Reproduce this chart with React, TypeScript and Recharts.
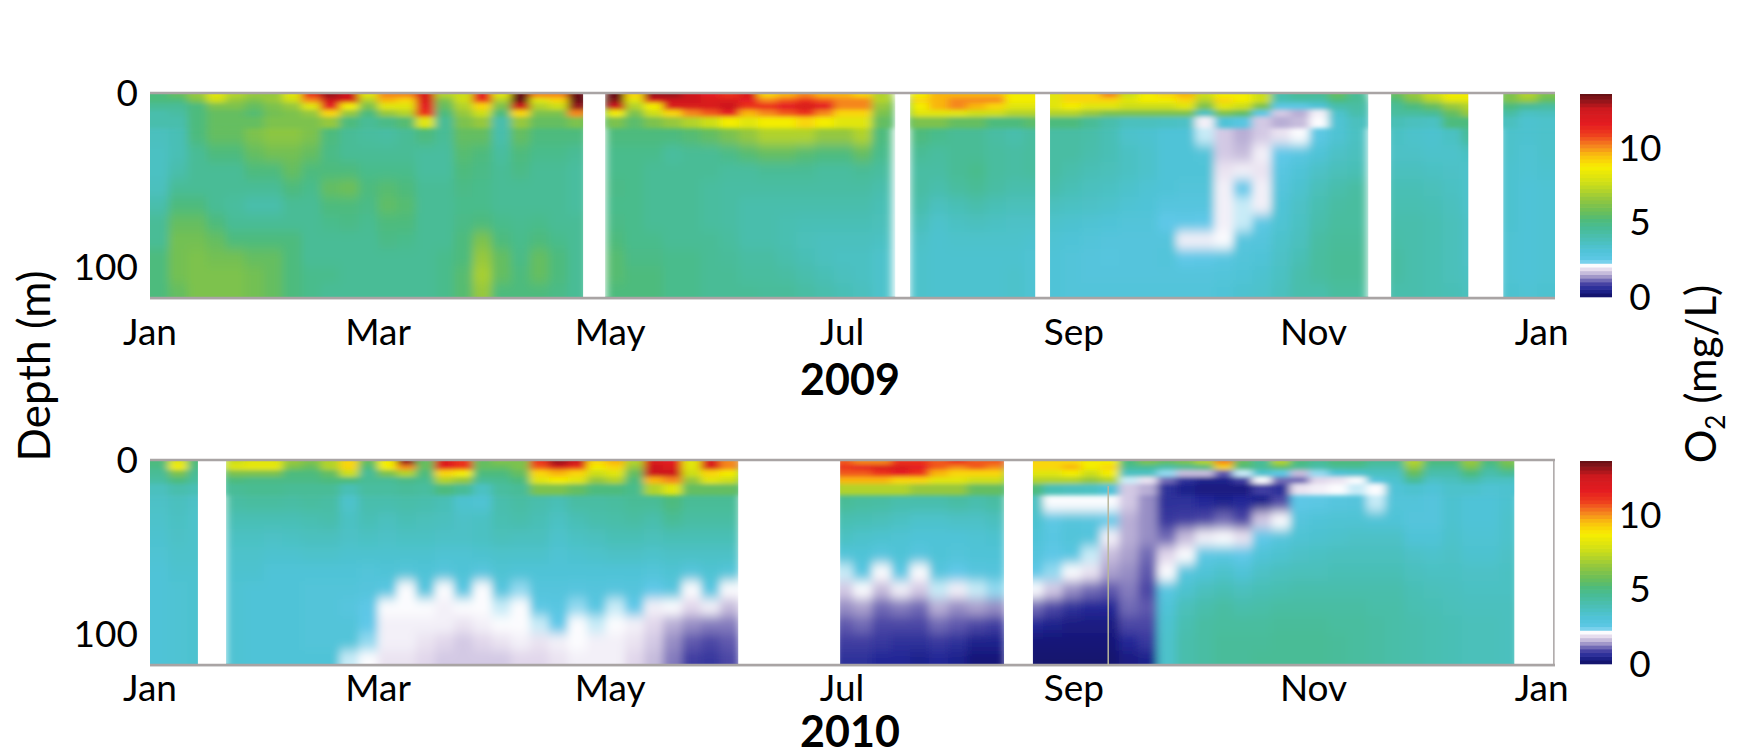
import React from 'react';
import { ScatterChart, Scatter, XAxis, YAxis, ReferenceArea, ReferenceLine } from 'recharts';

const monthTicks = [0, 60, 121, 182, 243, 306, 366];
const monthNames = ['Jan', 'Mar', 'May', 'Jul', 'Sep', 'Nov', 'Jan'];
const depthTicks = [0, 100];
const depthLevels = [1.5, 4.5, 8, 12, 17, 25, 35, 45, 55, 65, 75, 85, 95, 105, 114];
const depthThickness = [3, 3, 4, 4, 6, 10, 10, 10, 10, 10, 10, 10, 10, 10, 8];
const colorbarTicks = [0, 5, 10];
const colorbarLevels = [0, 0.25, 0.5, 0.75, 1, 1.25, 1.5, 1.75, 2, 2.25, 2.5, 2.75, 3, 3.25, 3.5, 3.75, 4, 4.25, 4.5, 4.75, 5, 5.25, 5.5, 5.75, 6, 6.25, 6.5, 6.75, 7, 7.25, 7.5, 7.75, 8, 8.25, 8.5, 8.75, 9, 9.25, 9.5, 9.75, 10, 10.25, 10.5, 10.75, 11, 11.25, 11.5, 11.75, 12, 12.25, 12.5, 12.75, 13, 13.25, 13.5];

const gaps2009 = [[113.9, 119.7], [196, 199.9], [232.8, 236.7], [320.4, 326.4], [346.7, 355.9]];
const gaps2010 = [[12.6, 20], [154.7, 181.5], [224.6, 232.2], [358.8, 369.5]];

// O2 (mg/L), one profile every 5 days, from surface to bottom
const o2in2009 = [
  [5,5,4.5,4,4,3.6,3.5,3.5,3.6,4,4.5,4.5,5,5,5],
  [5.5,5,4.5,4.2,4,3.8,3.8,4,4.5,5,5.5,5.8,5.8,5.8,5.5],
  [6.5,6,5,5,5,5,4.5,4.5,4.5,5,5.5,5.8,6,6,6],
  [8,7.5,6,5.5,5.5,5.5,5,4.5,4.5,4.5,5,5.5,5.8,6,6],
  [7,6.5,6,5.5,5.5,5.5,5,4.5,4.5,4.3,4.5,5,5.8,6,6],
  [6.5,6,5.5,5.2,5.5,6,5.5,5,4.5,4,4.5,5,5.5,5.8,5.8],
  [6.5,6.5,6,5.8,6,6.3,5.8,5,4.5,4,4.5,5,5.5,5.5,5.5],
  [8,7.5,6.5,6,6,6.3,5.8,5.5,5,4.5,4.5,5,5,5,5],
  [11,10,8,6.5,6,6,5.5,5,4.7,4.5,4.5,4.5,4.5,4.7,4.7],
  [13,12.5,11.5,9,6.5,5,4.8,5,5.5,5,4.7,4.5,4.5,4.7,4.5],
  [12.5,12,8.5,6.5,5,4.5,4.5,5,5.7,5,4.8,4.5,4.5,4.5,4.5],
  [8,7,6,5,4.5,4.3,4.5,4.7,5,4.8,4.6,4.5,4.5,4.5,4.5],
  [10,9.5,8,6.5,4.8,4.2,4.5,4.7,5.2,5.4,5,4.8,4.5,4.5,4.5],
  [10,9,8,7,5.2,4.5,4.5,4.7,5,5.2,5,4.7,4.5,4.5,4.5],
  [12,12,11.5,11,8,5,4.3,4.3,4.5,4.5,4.5,4.5,4.5,4.5,4.5],
  [7,6,5.5,5,4.5,4.5,4.3,4.3,4.5,4.5,4.5,4.5,4.7,4.7,4.7],
  [7.5,7.5,7,6.5,6,5.5,5.2,5,4.8,4.7,4.8,5,5,5.2,5.2],
  [11.5,11,9,7.5,6.5,5.5,5,4.8,4.7,4.7,5,6,6.5,6.8,6.5],
  [8,7,6,5,4,4,4.3,4.5,4.5,4.5,4.7,5,5.5,5.5,5],
  [13.5,13.5,12.5,9,6.5,5.5,5,4.8,4.5,4.5,4.6,4.7,4.8,5,5],
  [10,8,7,6,5.5,5,4.7,4.5,4.5,4.5,4.7,5,5.5,5.5,5],
  [10,9,7.5,6,5.5,5,4.7,4.5,4.5,4.5,4.5,4.7,5,5,4.8],
  [13.5,13.5,13,10,6,5,4.5,4.3,4.3,4.3,4.5,4.5,4.5,4.5,4.5],
  null,
  [13.5,13.2,12.5,8.5,6,5,4.7,4.7,4.8,4.7,4.8,5,5.2,5.2,5],
  [9,8,7,6,5.3,5,4.7,4.7,4.7,4.7,4.7,4.7,4.8,5,5],
  [13,12,8.5,7.5,6,5,4.7,4.5,4.5,4.5,4.5,4.7,4.8,5,5],
  [13,12.5,12,9,6.5,5,4.3,4.5,4.5,4.5,4.5,4.5,4.7,4.7,4.7],
  [12.5,12.5,12,10,7,5.2,4.5,4.5,4.5,4.5,4.5,4.5,4.7,4.7,4.7],
  [11.5,12,12,10.5,7.5,5.5,4.5,4.5,4.3,4.3,4.3,4.5,4.5,4.5,4.5],
  [11,12,12.5,11.5,8.5,6,4.8,4.3,4.2,4.2,4.2,4.3,4.4,4.5,4.5],
  [12,11.5,11,9.5,8,6.5,5.2,4.3,4.2,4,4,4,4.2,4.3,4.5],
  [9,10,11,10,8.5,7,5.5,4.5,4.2,4,4,4,4.2,4.3,4.4],
  [9.5,10.5,11.5,10.5,8.5,7,5.5,4.5,4.2,4,3.9,3.9,4,4.2,4.4],
  [10,11,12,11,9,7,5.2,4.5,4.2,4,3.8,3.7,3.8,4,4.2],
  [9.5,10.5,11.5,10,8.5,6.5,5,4.3,4.2,4,3.8,3.6,3.6,3.8,4],
  [9.5,10,10,9,8,6.5,5,4.3,4.2,4,3.8,3.6,3.5,3.6,3.8],
  [9,10,10,9,8,7,5.5,4.5,4.2,4,3.8,3.6,3.5,3.5,3.6],
  [7,7,6.5,6,5.5,5,4.7,4.3,4,3.8,3.7,3.5,3.3,3.3,3.3],
  null,
  [8.5,9,8.5,8,6,5,4.5,4.2,4.2,4,3.7,3.4,3.3,3.3,3.3],
  [9.5,9.5,9.5,8,6,4.7,4.3,4.2,4,3.6,3.3,3.2,3.2,3.2,3.2],
  [9.5,10,10,8,5.5,4.5,4.5,4.5,4.3,3.8,3.5,3.3,3.2,3.2,3.2],
  [9.5,10,9.5,7.5,5.5,4.5,4.5,4.7,4.5,4,3.6,3.3,3.2,3.2,3.2],
  [9.5,10,9,7.5,5,4.2,4.3,4.3,4.2,3.8,3.5,3.3,3.2,3.2,3.2],
  [8.5,8.5,8,7,5,4,4.2,4.2,4,3.7,3.4,3.3,3.2,3.3,3.3],
  [8.5,8.5,8,7,5.3,4.3,4.3,4.3,4,3.7,3.4,3.2,3.1,3.1,3.1],
  [8,8,8,7,5,4.2,4.2,4.2,4,3.6,3.3,3.1,3,3,3],
  [9,9,8.5,7,5,4.2,4.2,4,3.8,3.5,3.2,3,2.9,2.9,2.9],
  [9,9,8,6.5,4.5,4.1,4,3.8,3.6,3.4,3.1,2.9,2.8,2.8,2.9],
  [10,9,8,6,4,3.8,3.8,3.7,3.5,3.3,3,2.8,2.7,2.8,2.9],
  [7.5,8,7.5,6,3.6,3.3,3.5,3.5,3.3,3.1,2.9,2.8,2.8,2.8,2.9],
  [8.5,8.5,7.5,6,3.6,3.2,3.3,3.3,3.1,3,2.9,2.8,2.8,2.8,2.9],
  [9,8.5,7.5,6,3.5,3,3,3,3,2.7,2.3,2.8,2.9,2.8,2.9],
  [9.5,9,8,6,3.4,3,3,3,2.9,2.7,2.4,1.9,2.3,2.8,2.9],
  [7.5,7,6,3.5,1.9,2.1,2.9,3,2.9,2.7,2.3,1.9,2.4,2.8,2.9],
  [8.5,9,8,6,3,1.6,1.6,1.8,1.9,1.9,1.9,2,2.6,2.9,3],
  [8.5,8.5,7.5,5.5,2.6,1.4,1.5,1.9,2.3,2.1,2.1,2.7,2.9,3,3.2],
  [7.5,7.5,6,2.5,1.6,1.6,1.9,1.8,1.9,1.9,2.5,2.8,3,3.2,3.3],
  [4,3.8,2.5,1.6,1.4,1.8,2.3,2.6,2.8,3,3.1,3.3,3.4,3.5,3.6],
  [4.5,4,2.5,1.4,1.5,2,2.6,3,3.2,3.4,3.5,3.6,3.8,4,4],
  [4.5,4,3,1.9,2,2.5,3,3.4,3.7,3.9,4,4.2,4.3,4.3,4],
  [5.5,5,4,3.3,3.1,3.1,3.4,3.7,4,4.2,4.3,4.4,4.5,4.5,4.3],
  [4.5,4.5,4.2,4,3.6,3.5,3.6,3.8,4.2,4.3,4.3,4.4,4.5,4.5,4.3],
  null,
  [5.5,5,4.5,4.3,3.8,3.5,3.4,3.6,3.8,3.9,4,4.1,4.2,4.2,4],
  [6.5,6,5,4.3,3.6,3.3,3.4,3.6,3.8,3.9,4,4,4,4,4],
  [7.5,7,5.5,4.5,3.5,3.2,3.3,3.5,3.7,3.8,3.9,3.9,3.9,3.9,3.9],
  [8.5,8,6.5,5.5,5,3.5,3.3,3.4,3.5,3.6,3.7,3.7,3.7,3.7,3.8],
  [8.5,8,7,6.5,5,4.5,3.5,3.3,3.3,3.3,3.4,3.4,3.4,3.5,3.6],
  null,
  [6,6,5,4.2,3.6,3.3,3.3,3.2,3.2,3.2,3.2,3.1,3.1,3.1,3.2],
  [7,6.5,4.5,3.5,3.2,3.2,3.1,3.1,3,3,3,3,3,3,3.1],
  [6,5.5,4.3,3.6,3.3,3.3,3.3,3.2,3.1,3.1,3.1,3.1,3.1,3.1,3.2],
];

const o2in2010 = [
  [5,4.8,4.5,4.2,3.6,3.4,3.3,3.2,3.1,3,3,3,3,3,3],
  [8,8.5,6,5,4,3.6,3.5,3.4,3.3,3.2,3.1,3.1,3.1,3.1,3.1],
  [5,4.8,4.5,4.3,3.8,3.4,3.3,3.3,3.3,3.2,3.2,3.2,3.2,3.2,3.2],
  null,
  [7.5,8,6,5,4.5,4.2,3.8,3.5,3.3,3.2,3.1,3.1,3.1,3.1,3.1],
  [8,8.2,6,4.8,4.6,4.3,3.8,3.5,3.3,3.2,3,3,3,3,3],
  [8,8.2,6,4.8,4.6,4.3,3.8,3.4,3.2,3,3,3,3,3,3],
  [6.5,6,5,4.8,4.5,4.2,3.8,3.5,3.2,3,3,3,3,3,3],
  [6,5.5,5,4.8,4.5,4.3,3.9,3.6,3.3,3,2.9,2.9,2.9,2.9,3],
  [7,7,5.5,5,4.5,4.2,4,3.6,3.3,3,2.9,2.9,2.9,2.9,3],
  [9,9,7.5,5,3.8,3.3,3.5,3.4,3.2,3,2.9,2.7,2.9,2.9,2.1],
  [5.5,5,4.5,4.5,4.3,4,3.8,3.5,3.2,2.9,2.8,2.4,2.3,2.2,2],
  [8.5,8.5,6,4.5,4.3,4,3.6,3.4,3.2,3,2.6,2,1.9,1.9,1.8],
  [13,10,7,4.8,4.4,4.1,3.8,3.5,3.2,2.9,2,2,1.9,1.9,1.8],
  [5.5,5.5,5,4.6,4.3,4,3.7,3.5,3.2,3,2.7,2,1.9,1.8,1.7],
  [12,11.5,9,7,5,3.8,3.6,3.4,3.1,2.8,2,1.9,1.9,1.7,1.6],
  [11,11,8.5,6.5,4.5,3.2,3.4,3.4,3.1,3,2.6,2,1.8,1.6,1.6],
  [5.5,5.5,5,4.5,3.5,3.1,3.5,3.5,3.2,2.7,2,2,1.9,1.7,1.6],
  [6,5.5,5,4.6,4.3,4,3.9,3.7,3.3,3.1,2.7,2.1,2,1.8,1.6],
  [6,6,5.5,5,4.5,4.2,4,3.6,3.3,3,2.2,2,2,1.9,1.7],
  [11,10.5,9,8,6,4,3.8,3.6,3.3,3,2.8,2.5,2.1,1.8,1.7],
  [13,12,9.5,8.5,6,3.8,3.5,3.3,3.1,3,2.8,2.6,2.3,1.9,1.8],
  [12.5,11,9,8,5.5,4.2,3.8,3.5,3.2,3,2.7,2.2,2,2,1.9],
  [9,8.5,7.5,6.5,5,4.2,4,3.6,3.3,3,2.8,2.6,2.1,1.9,1.9],
  [9.5,9,8,7,5,4.3,4.1,3.8,3.4,3,2.7,2.1,2,1.9,1.9],
  [7,6.5,5.5,5,4.7,4.5,4.2,3.8,3.4,3,2.8,2.3,1.9,1.8,1.7],
  [12,12.5,12.5,9.5,7,4.5,4,3.7,3.3,2.9,2.3,1.9,1.7,1.6,1.5],
  [11.5,12,12.5,10,8,5,4.5,3.8,3.4,3.1,2.7,2,1.4,1.2,1.1],
  [8,8,7.5,6.5,5.5,4.5,4.2,3.8,3.4,2.8,2,1.7,1.2,0.9,0.7],
  [12,12,9,8,5.5,4.5,4.2,3.8,3.4,3.1,2.6,1.9,1.1,0.8,0.6],
  [10,10,8.5,7.5,5.5,4.5,4.2,3.8,3.4,2.9,2,1.5,1.1,0.9,0.8],
  null, null, null, null, null,
  [10.5,11,10.5,9.5,7,4.5,3.9,3.5,2.9,2.1,1.6,1.2,0.9,0.7,0.5],
  [10,11.5,10.5,9.5,7,4.3,3.8,3.3,3,2.6,2,1.3,1,0.7,0.5],
  [10,12,11,9.5,7,4.2,3.7,3.2,2.7,2,1.5,1,0.8,0.6,0.4],
  [11,12,11.5,9,7,4,3.5,3.1,3,2.5,1.9,1.1,0.8,0.5,0.4],
  [11,11.5,11,9,6.5,4,3.3,3,2.7,2,1.6,1,0.8,0.5,0.3],
  [10.5,10.5,9.5,8,6.5,4,3.3,3,3,2.7,2.1,1.4,1,0.6,0.4],
  [11,10,9,8,6.5,4.2,3.4,3,2.9,2.3,1.9,1.2,0.9,0.5,0.3],
  [10.5,10.5,9,7.5,5.5,4,3.4,3.1,3,2.7,2.1,1.3,0.8,0.3,0.1],
  [10.5,10,9,7.5,5.5,4.2,3.6,3.2,3,2.8,2.2,1.2,0.7,0.3,0.1],
  null,
  [9,9,8,7,5,3.5,3.2,3,2.8,2.4,2,1,0.4,0.1,0],
  [9,9,8,7,3.8,2,2.5,2.6,2.4,2.2,1.6,0.8,0.3,0.1,0],
  [9,9.5,8.5,7,3.6,2,2.8,2.9,2.6,2,1.2,0.5,0.2,0.1,0],
  [8.5,8.5,7.5,6.5,3.5,2,2.7,2.8,2.1,1.8,1,0.4,0.2,0.1,0],
  [8.5,9,8.5,7,3,2,2.4,1.9,1.5,1.3,0.9,0.4,0.2,0.1,0],
  [5,4.5,3.5,2.1,1.6,1.6,1.4,1.4,1.3,1.2,1.1,1,0.8,0.4,0.2],
  [6,4.5,3.5,1.8,1.4,1.2,1.2,1.2,1,0.9,0.8,0.9,0.8,0.6,0.3],
  [5.5,4,2.2,1,0.5,0.5,0.6,1,1.7,2,2.6,3,3.2,3.3,3.3],
  [6,4.5,1.5,0.5,0.3,0.5,0.7,1.5,2,2.7,3.2,3.7,3.9,4,4],
  [7,5,1.5,0.3,0.2,0.4,0.8,1.9,2.5,3,3.6,4,4.2,4.2,4.2],
  [10,9,0.9,0.3,0.2,0.3,1,2,2.6,3.3,3.8,4.2,4.3,4.4,4.4],
  [5.5,5,2.1,0.7,0.2,0.4,0.8,1.8,2.3,3,3.6,4,4.3,4.4,4.4],
  [4.5,4.5,3.2,2,0.7,0.3,1.6,2.3,3,3.4,3.8,4.1,4.3,4.4,4.5],
  [7,5.5,2.5,1,0.5,0.8,2,2.8,3.2,3.6,3.9,4.2,4.4,4.5,4.5],
  [5,4.5,1.5,1,1.8,2.4,2.8,3.1,3.4,3.7,4,4.2,4.4,4.5,4.5],
  [4.5,4,2.2,1.7,1.9,2.5,3,3.2,3.5,3.7,4,4.2,4.4,4.5,4.5],
  [5,4.5,3,1.8,2,2.7,3.1,3.3,3.6,3.8,4,4.2,4.3,4.4,4.4],
  [5,4.5,3.2,2,2.1,2.8,3.1,3.4,3.6,3.8,4,4.2,4.3,4.3,4.3],
  [4.5,4,3.5,2.8,2,2.1,3,3.4,3.6,3.8,4,4.1,4.2,4.2,4.2],
  [4.5,4,3.5,3.2,3,2.9,3,3.4,3.6,3.8,4,4.1,4.1,4.1,4.1],
  [7,6.5,5.5,4.5,3.2,2.9,2.8,3,3.4,3.6,3.8,3.9,4,4,4],
  [5,4.5,4,3.4,3,2.8,2.8,3,3.3,3.5,3.7,3.8,3.9,3.9,3.9],
  [5,4.5,4,3.6,3.3,3.2,3.2,3.3,3.4,3.5,3.6,3.7,3.8,3.8,3.8],
  [6.5,6,5,4,3.3,3,3,3.1,3.2,3.4,3.5,3.6,3.7,3.7,3.7],
  [5,4.5,4,3.5,3.1,3,3,3.1,3.2,3.4,3.5,3.6,3.7,3.7,3.7],
  [6,5.5,4.5,3.5,3.2,3.2,3.3,3.3,3.4,3.5,3.5,3.6,3.6,3.6,3.6],
  null, null,
];

const FONT = 'Lato, "Open Sans", sans-serif';
const DAY_STEP = 5;
const SURFACE_ROWS = 5;
const COLOR_STOPS: [number, number[]][] = [
  [0, [20, 20, 110]], [0.4, [35, 40, 150]], [0.8, [75, 70, 165]], [1.3, [170, 160, 205]],
  [1.7, [225, 215, 235]], [2, [252, 252, 254]], [2.3, [95, 200, 232]], [3, [80, 195, 215]],
  [3.6, [75, 192, 190]], [4.5, [72, 188, 150]], [5, [78, 187, 125]], [5.6, [105, 190, 90]],
  [6.5, [150, 200, 60]], [7.5, [205, 222, 25]], [8.6, [248, 238, 0]], [9.4, [250, 190, 15]],
  [10, [245, 135, 30]], [10.8, [238, 60, 30]], [11.5, [228, 28, 32]], [12.5, [205, 25, 30]],
  [13.2, [130, 20, 25]], [14, [60, 12, 15]],
];

function colorOf(v: number) {
  for (let i = 1; i < COLOR_STOPS.length; i++) {
    const [b, cb] = COLOR_STOPS[i];
    if (v <= b) {
      const [a, ca] = COLOR_STOPS[i - 1];
      const t = (v - a) / (b - a);
      return `rgb(${ca.map((c, j) => Math.round(c + (cb[j] - c) * t)).join(',')})`;
    }
  }
  return 'rgb(60,12,15)';
}

const PX_PER_M = 205 / 118;
const PX_PER_DAY = 1405 / 369.5;

function toCells(columns: (number[] | null)[]) {
  const out: any[] = [];
  columns.forEach((col, k) => {
    if (!col) return;
    col.forEach((o2, r) => {
      out.push({ day: k * DAY_STEP + DAY_STEP / 2, depth: depthLevels[r], o2, row: r, col: k });
    });
  });
  return out;
}

function HeatCell(p: any) {
  const { cx, cy, payload } = p;
  const w = DAY_STEP * PX_PER_DAY + 1;
  const h = depthThickness[payload.row] * PX_PER_M + 1;
  const top = payload.row === 0 ? 14 : payload.row === SURFACE_ROWS ? 30 : 0;
  const bot = payload.row === depthLevels.length - 1 ? 26 : 0;
  const left = payload.col === 0 ? 16 : 0;
  const right = payload.col === 73 ? 16 : 0;
  return <rect x={cx - w / 2 - left} y={cy - h / 2 - top} width={w + left + right} height={h + top + bot} fill={colorOf(payload.o2)} />;
}

function BarCell(p: any) {
  const { cx, cy, payload } = p;
  return <rect x={cx - 16} y={cy - 2.2} width={32} height={4.4} fill={colorOf(payload.o2)} />;
}

const axisTick = { fill: '#000', fontSize: 37, fontFamily: FONT };
const FRAME = '#a9a4a4';

function Panel({ columns, gaps, top, tickMargin, frameRight, extraLine }: any) {
  const cells = toCells(columns);
  return (
    <div className="heatpanel" style={{ position: 'absolute', left: 0, top, width: 1600, height: 310 }}>
      <ScatterChart width={1600} height={310} margin={{ top: 33, right: 45, bottom: 0, left: 0 }}>
        <XAxis type="number" dataKey="day" domain={[0, 369.5]} allowDataOverflow ticks={monthTicks}
          tickFormatter={(_: any, i: number) => monthNames[i]} interval={0} tickLine={false} height={72}
          tickMargin={tickMargin} stroke={FRAME} strokeWidth={2.5} tick={axisTick} />
        <YAxis type="number" dataKey="depth" domain={[0, 118]} reversed ticks={depthTicks} width={150}
          tickLine={false} axisLine={false} tickMargin={6} tick={axisTick} interval={0} />
        <Scatter className="heat-deep" data={cells.filter((c) => c.row >= SURFACE_ROWS)} isAnimationActive={false} shape={HeatCell} />
        <Scatter className="heat-surface" data={cells.filter((c) => c.row < SURFACE_ROWS)} isAnimationActive={false} shape={HeatCell} />
        {gaps.map((g: number[], i: number) => (
          <ReferenceArea key={i} x1={g[0]} x2={g[1]} y1={0} y2={118} fill="#fff" fillOpacity={1} stroke="none" zIndex={700} />
        ))}
        <ReferenceLine y={0} stroke={FRAME} strokeWidth={2.5} zIndex={710} />
        <ReferenceLine y={118} stroke={FRAME} strokeWidth={2.5} zIndex={710} />
        {frameRight ? <ReferenceLine x={369.2} stroke={FRAME} strokeWidth={1.5} zIndex={710} /> : null}
        {extraLine ? <ReferenceLine stroke="#b9b79c" strokeWidth={1.5} zIndex={710} segment={[{ x: extraLine, y: 15 }, { x: extraLine, y: 118 }]} /> : null}
      </ScatterChart>
    </div>
  );
}

const barCells = colorbarLevels.map((o2) => ({ x: 0.5, y: o2 + 0.125, o2 }));

function ColorTick(p: any) {
  return (
    <text x={p.x + 20} y={p.y} dy="0.35em" textAnchor="middle" fill="#000" fontSize={37} fontFamily={FONT}>
      {p.payload.value}
    </text>
  );
}

function ColorBar({ top }: any) {
  return (
    <div style={{ position: 'absolute', left: 1580, top, width: 90, height: 226 }}>
      <ScatterChart width={90} height={226} margin={{ top: 0, right: 0, bottom: 22, left: 0 }}>
        <XAxis type="number" dataKey="x" domain={[0, 1]} hide />
        <YAxis type="number" dataKey="y" orientation="right" domain={[-0.07, 13.62]} allowDataOverflow ticks={colorbarTicks}
          width={58} tickLine={false} axisLine={false} tick={ColorTick} interval={0} />
        <Scatter data={barCells} isAnimationActive={false} shape={BarCell} />
      </ScatterChart>
    </div>
  );
}

const textBase: React.CSSProperties = { position: 'absolute', fontFamily: FONT, color: '#000', whiteSpace: 'nowrap', lineHeight: 1 };

export default function App() {
  return (
    <div style={{ position: 'absolute', left: 0, top: 0, width: 1740, height: 747, background: '#fff', overflow: 'hidden' }}>
      <style>{`
        .heatpanel .heat-deep { filter: url(#deepBlur); clip-path: url(#plotClip); }
        .heatpanel .heat-surface { filter: url(#surfaceBlur); clip-path: url(#plotClip); }
      `}</style>
      <svg width={0} height={0} style={{ position: 'absolute' }}>
        <defs>
          <clipPath id="plotClip"><rect x={150} y={33} width={1405} height={205} /></clipPath>
          <filter id="deepBlur" x="-5%" y="-15%" width="110%" height="130%"><feGaussianBlur stdDeviation="4 6" /></filter>
          <filter id="surfaceBlur" x="-5%" y="-30%" width="110%" height="160%"><feGaussianBlur stdDeviation="4 2.2" /></filter>
        </defs>
      </svg>
      <Panel columns={o2in2009} gaps={gaps2009} top={60} tickMargin={15} />
      <Panel columns={o2in2010} gaps={gaps2010} top={427} tickMargin={4} frameRight extraLine={252} />
      <ColorBar top={94} />
      <ColorBar top={461} />
      <div style={{ ...textBase, left: 850, top: 378, transform: 'translate(-50%,-50%)', fontSize: 43, fontWeight: 700 }}>2009</div>
      <div style={{ ...textBase, left: 850, top: 731, lineHeight: 0.74, transform: 'translate(-50%,-50%)', fontSize: 43, fontWeight: 700 }}>2010</div>
      <div style={{ ...textBase, left: 33, top: 366, transform: 'translate(-50%,-50%) rotate(-90deg)', fontSize: 44 }}>Depth (m)</div>
      <div style={{ ...textBase, left: 1700, top: 374, transform: 'translate(-50%,-50%) rotate(-90deg)', fontSize: 42 }}>
        O<sub style={{ fontSize: 26, verticalAlign: 'sub', lineHeight: 0 }}>2</sub> (mg/L)
      </div>
    </div>
  );
}
